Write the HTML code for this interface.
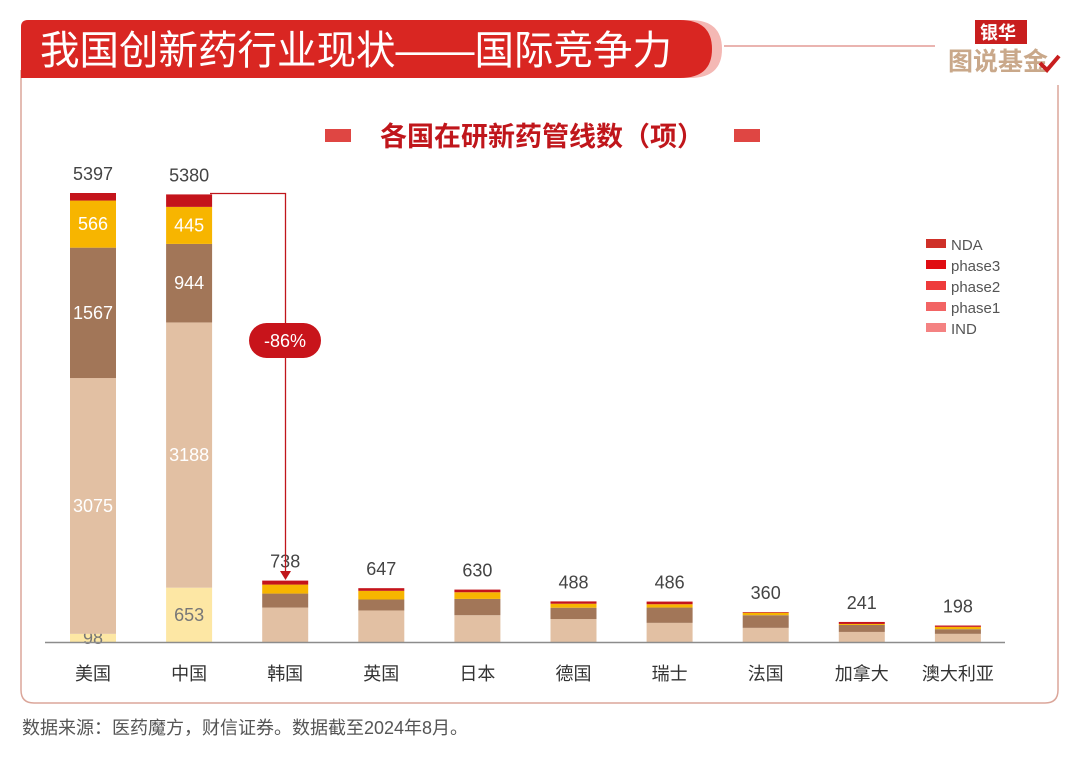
<!DOCTYPE html>
<html><head><meta charset="utf-8">
<style>
body{margin:0;width:1080px;height:759px;background:#fff;overflow:hidden;font-family:"Liberation Sans","Noto Sans CJK SC",sans-serif;}
svg{display:block}
</style></head>
<body>
<svg id="chart" width="1080" height="759" viewBox="0 0 1080 759">
  <path d="M1058 85 V690 Q1058 703 1045 703 H34 Q21 703 21 690 V70" fill="none" stroke="#dba69a" stroke-width="1.5"/>
  <path d="M28 20 H690 Q722 20 722 49 Q722 78 690 78 H21 V27 Q21 20 28 20Z" fill="#f4b8b4"/>
  <path d="M28 20 H680 Q712 20 712 49 Q712 78 680 78 H21 V27 Q21 20 28 20Z" fill="#d92622"/>
  <text x="40" y="64" fill="#fff" font-size="40" textLength="632" lengthAdjust="spacingAndGlyphs">我国创新药行业现状——国际竞争力</text>
  <line x1="724" y1="46" x2="935" y2="46" stroke="#e39c95" stroke-width="1.5"/>
  <rect x="975" y="20" width="52" height="24" fill="#c81e1e" transform="skew(-8)"/>
  <text x="980" y="39" fill="#fff" font-size="18" font-weight="bold">银华</text>
  <text x="948" y="70" fill="#c9a88a" font-size="25" font-weight="bold">图说基金</text>
  <path d="M1040 63 l7 7 l12 -14" stroke="#c81e1e" stroke-width="4" fill="none"/>
  <rect x="325" y="129" width="26" height="13" fill="#d92622" opacity="0.85"/>
  <rect x="734" y="129" width="26" height="13" fill="#d92622" opacity="0.85"/>
  <text x="542" y="146" text-anchor="middle" fill="#c0161b" font-size="27" font-weight="bold">各国在研新药管线数（项）</text>
  <g id="bars"></g>
  <line x1="45" y1="642.5" x2="1005" y2="642.5" stroke="#8c8c8c" stroke-width="1.5"/>
  <g id="legend"></g>
  <path d="M210 193.5 H285.5 V572" stroke="#c0161b" stroke-width="1.3" fill="none"/>
  <path d="M280 571 L291 571 L285.5 580Z" fill="#c0161b"/>
  <rect x="249" y="323" width="72" height="35" rx="17.5" fill="#c8141b"/>
  <text x="285" y="347" text-anchor="middle" fill="#fff" font-size="18">-86%</text>
  <text x="22" y="734" fill="#555" font-size="18">数据来源：医药魔方，财信证券。数据截至2024年8月。</text>
</svg>
<script>
const categories=["美国","中国","韩国","英国","日本","德国","瑞士","法国","加拿大","澳大利亚"];
const totals=[5397,5380,738,647,630,488,486,360,241,198];
const indVals=[98,653,0,0,0,0,0,0,0,0];
const phase1Vals=[3075,3188,414,379,322,276,230,170,121,98];
const phase2Vals=[1567,944,168,132,196,136,184,152,84,56];
const phase3Vals=[566,445,108,104,80,48,40,30,12,28];
const ndaVals=[91,150,48,32,32,28,32,8,24,16];
const legendLabels=["NDA","phase3","phase2","phase1","IND"];

const NS="http://www.w3.org/2000/svg";
const baseY=642, maxV=5397, plotH=449;
const centers0=93, step=96.1;
function yScale(v){return baseY - v/maxV*plotH;}
function hScale(v){return v/maxV*plotH;}
function xScale(i){return centers0+i*step;}
const bw=46;
const series=[
 {vals:indVals,color:"#fde7a4",name:"ind",label:"#777"},
 {vals:phase1Vals,color:"#e2c0a3",name:"phase1",label:"#fff"},
 {vals:phase2Vals,color:"#a27658",name:"phase2",label:"#fff"},
 {vals:phase3Vals,color:"#f7b500",name:"phase3",label:"#fff"},
 {vals:ndaVals,color:"#c4141b",name:"nda",label:"#fff"}
];
const g=document.getElementById('bars');
categories.forEach((c,i)=>{
  let cum=0;
  const cx=xScale(i);
  series.forEach(s=>{
    const v=s.vals[i];
    if(v>0){
      const r=document.createElementNS(NS,'rect');
      r.setAttribute('x',cx-bw/2);r.setAttribute('y',yScale(cum+v));
      r.setAttribute('width',bw);r.setAttribute('height',hScale(v));
      r.setAttribute('fill',s.color);
      
      
      g.appendChild(r);
      if(i<2 && s.name!=="nda"){
        const t=document.createElementNS(NS,'text');
        t.setAttribute('x',cx);t.setAttribute('y',yScale(cum+v/2)+6);
        t.setAttribute('text-anchor','middle');t.setAttribute('font-size','18');
        t.setAttribute('fill',s.label);t.textContent=v;
        
        
        g.appendChild(t);
      }
    }
    cum+=v;
  });
  const tt=document.createElementNS(NS,'text');
  tt.setAttribute('x',cx);tt.setAttribute('y',yScale(totals[i])-13);
  tt.setAttribute('text-anchor','middle');tt.setAttribute('font-size','18');tt.setAttribute('fill','#444');
  tt.textContent=totals[i];
  
  
  g.appendChild(tt);
  const xl=document.createElementNS(NS,'text');
  xl.setAttribute('x',cx);xl.setAttribute('y',680);
  xl.setAttribute('text-anchor','middle');xl.setAttribute('font-size','18');xl.setAttribute('fill','#333');
  xl.textContent=c;
  
  
  g.appendChild(xl);
});
const legColors=["#cf3028","#e00d12","#ee3b3b","#f26464","#f48282"];
const lg=document.getElementById('legend');
legendLabels.forEach((l,i)=>{
  const y=244+i*21;
  const r=document.createElementNS(NS,'rect');
  r.setAttribute('x',926);r.setAttribute('y',y-5);r.setAttribute('width',20);r.setAttribute('height',9);
  r.setAttribute('fill',legColors[i]);
  
  
  lg.appendChild(r);
  const t=document.createElementNS(NS,'text');
  t.setAttribute('x',951);t.setAttribute('y',y+6);t.setAttribute('font-size','15');t.setAttribute('fill','#555');
  t.textContent=l;
  
  
  lg.appendChild(t);
});
</script>
</body></html>
